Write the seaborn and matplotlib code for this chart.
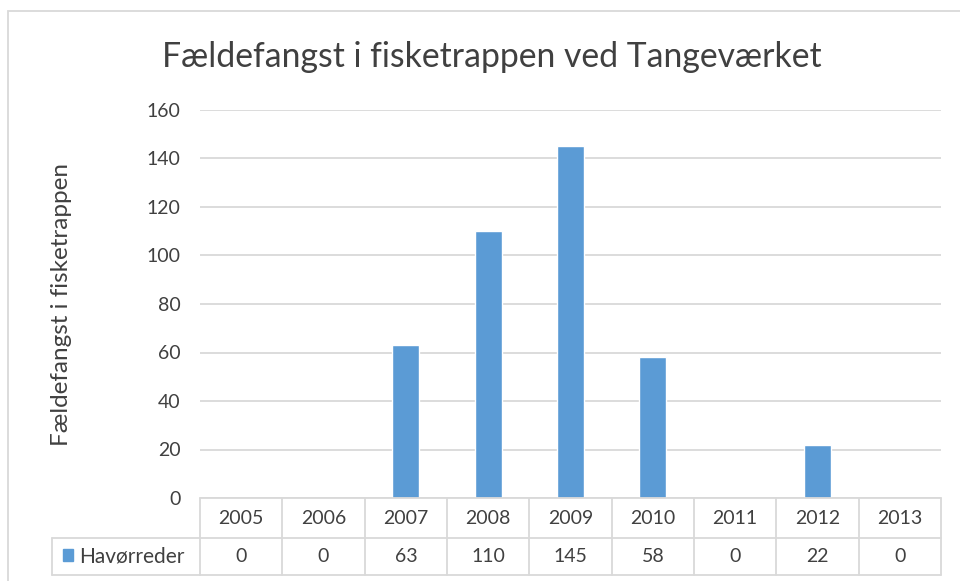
import matplotlib
matplotlib.use("Agg")
import matplotlib.pyplot as plt
import matplotlib.transforms as mtransforms
from matplotlib.patches import Rectangle
import pandas as pd
import seaborn as sns

years = ["2005", "2006", "2007", "2008", "2009", "2010", "2011", "2012", "2013"]
havoerreder = [0, 0, 63, 110, 145, 58, 0, 22, 0]
series_name = "Havørreder"
title = "Fældefangst i fisketrappen ved Tangeværket"
ylabel = "Fældefangst i fisketrappen"

bar_color = "#5B9BD5"
grid_color = "#D9D9D9"
text_color = "#404040"

sns.set_theme(style="white")
plt.rcParams["font.family"] = ["Lato", "DejaVu Sans"]

df = pd.DataFrame({"year": years, "value": havoerreder})

W, H = 960, 581
fig = plt.figure(figsize=(W / 100, H / 100), dpi=100)

# axes area in pixels
left, right, top, bottom = 200, 941, 110, 498
ax = fig.add_axes([left / W, 1 - bottom / H, (right - left) / W, (bottom - top) / H])

sns.barplot(data=df, x="year", y="value", color=bar_color, width=0.33,
            saturation=1, ax=ax)

ax.set_ylim(0, 160)
ax.set_xlim(-0.5, len(years) - 0.5)
ax.set_yticks(range(0, 161, 20))
ax.yaxis.grid(True, color=grid_color, linewidth=1.3)
ax.set_axisbelow(True)
for s in ax.spines.values():
    s.set_visible(False)
ax.set_xticks([])
ax.set_xlabel("")
ax.set_ylabel("")
ax.tick_params(axis="y", length=0, pad=14, labelsize=14, labelcolor=text_color)


def py(p):
    return 1 - p / H


fig.text(492 / W, py(57), title, ha="center", va="center",
         fontsize=24.3, color=text_color)
fig.text(62 / W, py(304), ylabel, rotation=90, ha="center", va="center",
         fontsize=17.5, color=text_color)

# data table below the axes
trans = mtransforms.blended_transform_factory(ax.transData, fig.transFigure)
row1_top, row1_bot, row2_bot = 498, 538, 575
tbl_left = 52
n = len(years)
line_kw = dict(color=grid_color, linewidth=1.3, transform=trans, clip_on=False)
ax.plot([-0.5, n - 0.5], [py(row1_top)] * 2, **line_kw)
for yy in (row1_bot, row2_bot):
    ax.plot([-0.5, n - 0.5], [py(yy)] * 2, **line_kw)
    fig.add_artist(plt.Line2D([tbl_left / W, left / W], [py(yy)] * 2,
                              color=grid_color, linewidth=1.3))
fig.add_artist(plt.Line2D([tbl_left / W] * 2, [py(row1_bot), py(row2_bot)],
                          color=grid_color, linewidth=1.3))
for i in range(n + 1):
    ax.plot([i - 0.5] * 2, [py(row1_top), py(row2_bot)], **line_kw)

for i, (yr, v) in enumerate(zip(years, havoerreder)):
    ax.text(i, py((row1_top + row1_bot) / 2), yr, transform=trans, ha="center", va="center",
            fontsize=14, color=text_color)
    ax.text(i, py((row1_bot + row2_bot) / 2), str(v), transform=trans, ha="center",
            va="center", fontsize=14, color=text_color)

fig.add_artist(Rectangle((63 / W, py(561)), 10 / W, 12 / H, color=bar_color))
fig.text(79 / W, py((row1_bot + row2_bot) / 2), series_name, ha="left", va="center",
         fontsize=15, color=text_color)

# chart border
fig.add_artist(Rectangle((8 / W, py(H + 5)), (W + 10) / W, (H - 6) / H, fill=False,
                         edgecolor=grid_color, linewidth=1.3))

fig.savefig("out.png", dpi=100)
